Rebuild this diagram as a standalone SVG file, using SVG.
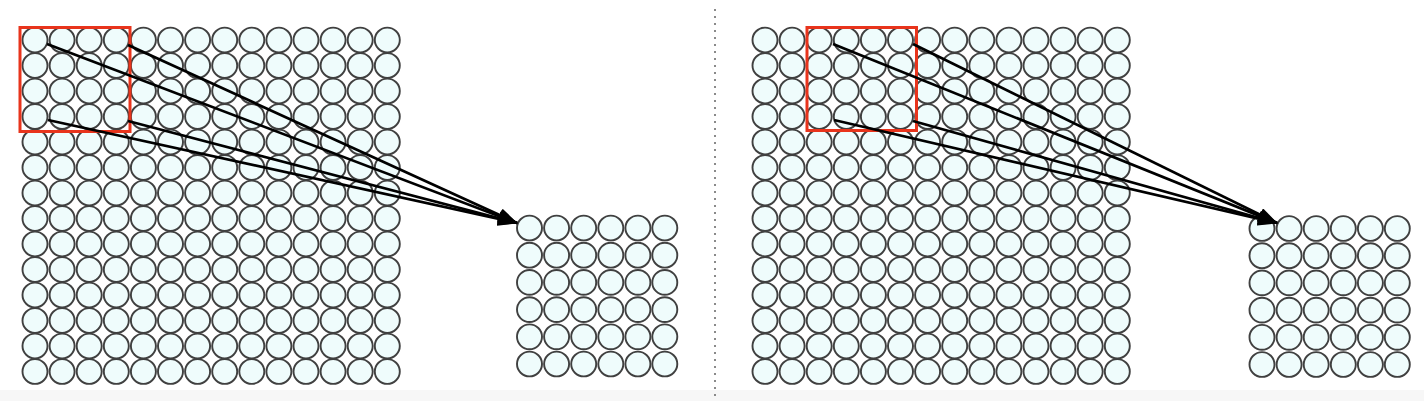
<svg xmlns="http://www.w3.org/2000/svg" xmlns:xlink="http://www.w3.org/1999/xlink" width="1424" height="401" viewBox="0 0 1424 401">
<style>
.n{fill:#effcfc;stroke:#404040;stroke-width:1.9}
.box{fill:none;stroke:#e8341c;stroke-width:3}
.ln{stroke:#000;stroke-width:2.7;fill:none;marker-end:url(#ah)}
.sep{stroke:#8a8a8a;stroke-width:2;stroke-dasharray:2 5;stroke-linecap:butt}
</style>
<defs>
<ellipse id="c" class="n" cx="0" cy="0" rx="12.5" ry="12.4"/>
<g id="r14">
<use href="#c" x="0"/><use href="#c" x="27.1"/><use href="#c" x="54.2"/><use href="#c" x="81.3"/><use href="#c" x="108.4"/><use href="#c" x="135.5"/><use href="#c" x="162.6"/><use href="#c" x="189.7"/><use href="#c" x="216.8"/><use href="#c" x="243.9"/><use href="#c" x="271"/><use href="#c" x="298.1"/><use href="#c" x="325.2"/><use href="#c" x="352.3"/>
</g>
<g id="r6">
<use href="#c" x="0"/><use href="#c" x="27.1"/><use href="#c" x="54.2"/><use href="#c" x="81.3"/><use href="#c" x="108.4"/><use href="#c" x="135.3"/>
</g>
<g id="g14">
<use href="#r14" y="0"/><use href="#r14" y="25.5"/><use href="#r14" y="51"/><use href="#r14" y="76.5"/><use href="#r14" y="102"/><use href="#r14" y="127.5"/><use href="#r14" y="153"/><use href="#r14" y="178.5"/><use href="#r14" y="204"/><use href="#r14" y="229.5"/><use href="#r14" y="255"/><use href="#r14" y="280.5"/><use href="#r14" y="306"/><use href="#r14" y="331.5"/>
</g>
<g id="g6">
<use href="#r6" y="0"/><use href="#r6" y="27.2"/><use href="#r6" y="54.4"/><use href="#r6" y="81.6"/><use href="#r6" y="108.8"/><use href="#r6" y="136"/>
</g>
<marker id="ah" markerUnits="userSpaceOnUse" markerWidth="20" markerHeight="14" viewBox="0 0 20 14" refX="19" refY="7" orient="auto">
<path d="M0,0 L20,7 L0,14 Z" fill="#000"/>
</marker>
</defs>
<rect x="0" y="0" width="1424" height="401" fill="#fff"/>
<rect x="0" y="390" width="1424" height="11" fill="#f7f7f7"/>
<line class="sep" x1="715" y1="9" x2="715" y2="401"/>

<g id="input-left" transform="translate(35,40)"><use href="#g14"/></g>
<g id="output-left" transform="translate(529.5,228)"><use href="#g6"/></g>
<g id="input-right" transform="translate(765,40)"><use href="#g14"/></g>
<g id="output-right" transform="translate(1262,228.5)"><use href="#g6"/></g>

<g id="window-left"><rect class="box" x="20" y="27.5" width="110" height="104"/></g>
<g id="window-right"><rect class="box" x="807" y="27.5" width="109.5" height="103"/></g>

<g id="connectors">
<line class="ln" x1="47" y1="44" x2="517" y2="223"/>
<line class="ln" x1="128" y1="45" x2="517" y2="223"/>
<line class="ln" x1="48" y1="120" x2="517" y2="223"/>
<line class="ln" x1="128" y1="121" x2="517" y2="223"/>
<line class="ln" x1="833" y1="44" x2="1277" y2="223"/>
<line class="ln" x1="913" y1="44" x2="1277" y2="223"/>
<line class="ln" x1="834" y1="120" x2="1277" y2="223"/>
<line class="ln" x1="913" y1="121" x2="1277" y2="223"/>
</g>
</svg>
